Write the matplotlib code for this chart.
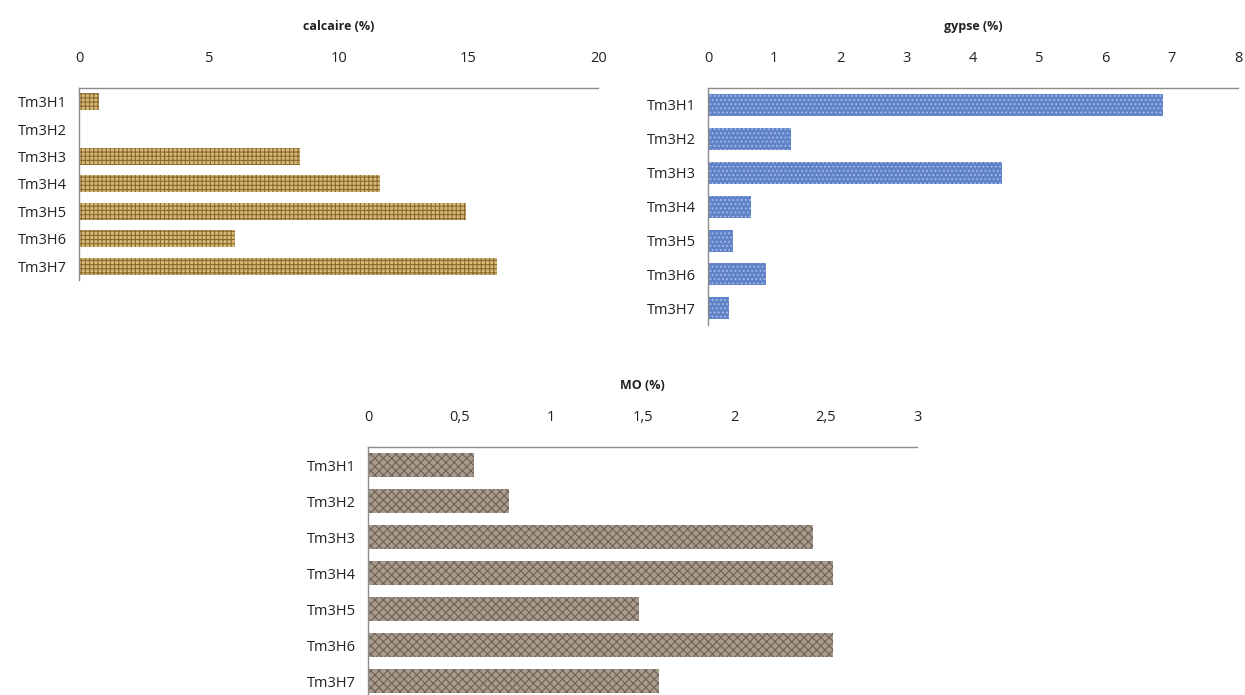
import matplotlib
matplotlib.use("Agg")
import matplotlib.pyplot as plt
from matplotlib.ticker import FuncFormatter

plt.rcParams['font.family'] = ['Open Sans', 'DejaVu Sans']
plt.rcParams['hatch.linewidth'] = 0.8

horizons = ["Tm3H1", "Tm3H2", "Tm3H3", "Tm3H4", "Tm3H5", "Tm3H6", "Tm3H7"]
calcaire = [0.75, 0.0, 8.5, 11.6, 14.9, 6.0, 16.1]
gypse = [6.87, 1.25, 4.44, 0.65, 0.38, 0.88, 0.32]
matiere_org = [0.58, 0.77, 2.43, 2.54, 1.48, 2.54, 1.59]

fig = plt.figure(figsize=(12.45, 6.95), dpi=100)


def panel(rect, values, title, xmax, step, face, hatch_col, hatch, bar_h, comma=False):
    ax = fig.add_axes(rect)
    ax.barh(range(len(horizons)), values, height=bar_h, color=face,
            edgecolor=hatch_col, hatch=hatch, linewidth=0)
    ax.set_ylim(len(horizons) - 0.5, -0.5)
    ax.set_xlim(0, xmax)
    ticks = [i * step for i in range(int(round(xmax / step)) + 1)]
    ax.set_xticks(ticks)
    if comma:
        ax.xaxis.set_major_formatter(FuncFormatter(
            lambda v, p: (f"{v:g}").replace(".", ",")))
    ax.xaxis.tick_top()
    ax.set_yticks(range(len(horizons)))
    ax.set_yticklabels(horizons)
    ax.tick_params(axis='x', length=0, pad=16, labelsize=10.5, colors='#222222')
    ax.tick_params(axis='y', length=0, pad=9, labelsize=10.5, colors='#222222')
    for s in ('right', 'bottom'):
        ax.spines[s].set_visible(False)
    for s in ('top', 'left'):
        ax.spines[s].set_color('#8c8c8c')
        ax.spines[s].set_linewidth(1.0)
    ax.set_title(title, fontsize=9, fontweight='bold', pad=42, color='#222222')
    return ax


panel([0.0635, 0.597, 0.417, 0.2766], calcaire, "calcaire (%)", 20, 5,
      '#d8b877', '#8a6a2e', '++++', 0.62)
panel([0.5687, 0.532, 0.4257, 0.3414], gypse, "gypse (%)", 8, 1,
      '#5f82c8', '#a9bde6', '....', 0.65)
panel([0.2956, -0.0058, 0.441, 0.3626], matiere_org, "MO (%)", 3, 0.5,
      '#a89a8c', '#6e6154', 'xxxx', 0.66, comma=True)

fig.savefig("out.png", dpi=100)
